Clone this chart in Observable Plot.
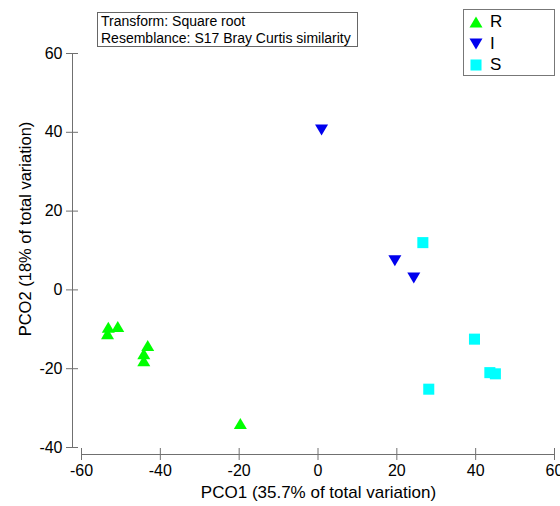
<!DOCTYPE html>
<html>
<head>
<meta charset="utf-8">
<script src="https://cdn.jsdelivr.net/npm/d3@7"></script>
<script src="https://cdn.jsdelivr.net/npm/@observablehq/plot@0.6"></script>
<style>
  html, body { margin: 0; padding: 0; background: #fff; }
  #wrap { position: relative; width: 560px; height: 506px; font-family: "Liberation Sans", Arial, sans-serif; }
  #note { position: absolute; left: 97px; top: 12px; width: 256px; height: 33px; border: 1px solid #666;
          font-size: 14px; line-height: 17px; padding-left: 3px; box-sizing: content-box; color: #000; white-space: nowrap; }
  #legend { position: absolute; left: 463px; top: 9px; width: 90px; height: 65px; border: 1px solid #777; }
  .item { position: absolute; left: 4px; height: 20px; display: flex; align-items: center; font-size: 17px; color: #000; }
  .item svg { margin-right: 6px; }
</style>
</head>
<body>
<div id="wrap"></div>
<script>
// ---- data ----
const groups = ["R", "I", "S"];
const groupColors = ["#00ff00", "#0000ee", "#00ffff"];
const rX = [-53.4, -53.2, -50.8, -43.2, -44.2, -44.2, -19.7];
const rY = [-11.1, -9.5, -9.3, -14.1, -16.2, -18.0, -33.9];
const iX = [0.9, 19.5, 24.3];
const iY = [40.6, 7.4, 3.0];
const sX = [26.6, 39.7, 43.6, 45.0, 28.1];
const sY = [12.0, -12.5, -21.0, -21.3, -25.2];
const xTicks = [-60, -40, -20, 0, 20, 40, 60];
const yTicks = [-40, -20, 0, 20, 40, 60];
const xLabel = "PCO1 (35.7% of total variation)";
const yLabel = "PCO2 (18% of total variation)";
const noteLines = ["Transform: Square root", "Resemblance: S17 Bray Curtis similarity"];

// ---- symbols ----
const triUp = { draw(ctx, size) { const r = Math.sqrt(size / Math.PI); ctx.moveTo(0, -r * 0.85); ctx.lineTo(r, r * 0.85); ctx.lineTo(-r, r * 0.85); ctx.closePath(); } };
const triDown = { draw(ctx, size) { const r = Math.sqrt(size / Math.PI); ctx.moveTo(0, r * 0.85); ctx.lineTo(r, -r * 0.85); ctx.lineTo(-r, -r * 0.85); ctx.closePath(); } };
const square = { draw(ctx, size) { const r = Math.sqrt(size / Math.PI) * 0.85; ctx.rect(-r, -r, 2 * r, 2 * r); } };
const symbols = [triUp, triDown, square];

const pts = (xs, ys) => xs.map((x, i) => ({ x, y: ys[i] }));
const R = pts(rX, rY), I = pts(iX, iY), S = pts(sX, sY);
const axisColor = "#707070";
const font = "'Liberation Sans', Arial, sans-serif";
const fmt = d => String(d);

const chart = Plot.plot({
  width: 560,
  height: 506,
  marginLeft: 72,
  marginRight: 6,
  marginTop: 53,
  marginBottom: 52,
  insetLeft: 9,
  insetBottom: 7,
  x: { domain: [d3.min(xTicks), d3.max(xTicks)] },
  y: { domain: [d3.min(yTicks), d3.max(yTicks)] },
  style: { fontFamily: font, fontSize: "16px", background: "white", color: "black", overflow: "visible" },
  marks: [
    Plot.ruleX([xTicks[0]], { dx: -9, y1: d3.min(yTicks), y2: d3.max(yTicks), stroke: axisColor }),
    Plot.ruleY([yTicks[0]], { dy: 7, x1: d3.min(xTicks), x2: d3.max(xTicks), stroke: axisColor }),
    Plot.axisY(yTicks, { anchor: "left", tickSize: 12, dx: 6, tickPadding: 4, label: null, tickFormat: fmt, stroke: axisColor, fill: "black", fontSize: 16 }),
    Plot.axisX(xTicks, { anchor: "bottom", tickSize: 12, dy: -6, tickPadding: 4, label: null, tickFormat: fmt, stroke: axisColor, fill: "black", fontSize: 16 }),
    Plot.text([xLabel], { frameAnchor: "bottom", textAnchor: "middle", lineAnchor: "middle", dx: 5, dy: 38, fontSize: 17, fill: "black" }),
    Plot.text([yLabel], { frameAnchor: "left", textAnchor: "middle", lineAnchor: "middle", rotate: -90, dx: -47, dy: -25, fontSize: 16.5, fill: "black" }),
    Plot.dot(R, { x: "x", y: "y", symbol: symbols[0], fill: groupColors[0], r: 6.5 }),
    Plot.dot(I, { x: "x", y: "y", symbol: symbols[1], fill: groupColors[1], r: 6.5 }),
    Plot.dot(S, { x: "x", y: "y", symbol: symbols[2], fill: groupColors[2], r: 6.5 })
  ]
});

const wrap = document.getElementById("wrap");
wrap.appendChild(chart);

// annotation box
const note = document.createElement("div");
note.id = "note";
note.innerHTML = noteLines.map(t => `<div>${t}</div>`).join("");
wrap.appendChild(note);

// legend
const legend = document.createElement("div");
legend.id = "legend";
groups.forEach((g, i) => {
  const p = d3.path();
  symbols[i].draw(p, Math.PI * 6.5 * 6.5);
  const item = document.createElement("div");
  item.className = "item";
  item.style.top = (2 + i * 21.5) + "px";
  item.innerHTML = `<svg width="16" height="16" viewBox="-8 -8 16 16"><path d="${p.toString()}" fill="${groupColors[i]}"></path></svg><span>${g}</span>`;
  legend.appendChild(item);
});
wrap.appendChild(legend);
</script>
</body>
</html>
